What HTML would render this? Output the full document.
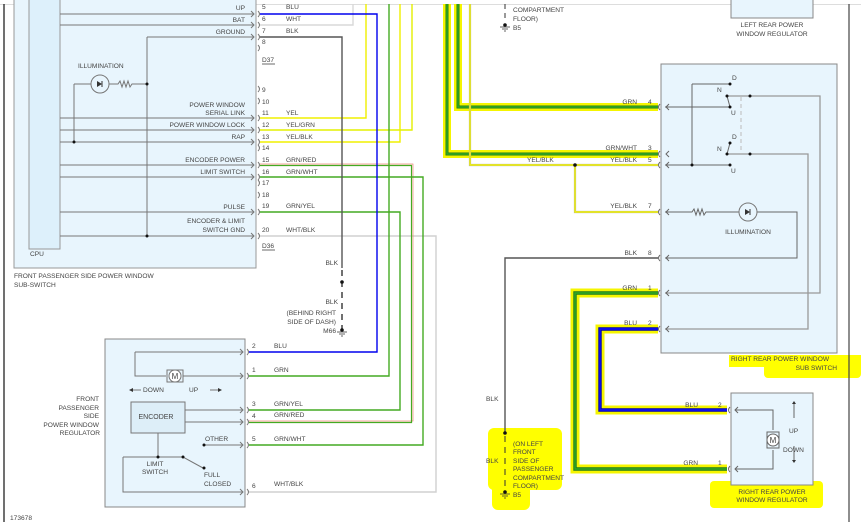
<!DOCTYPE html>
<html><head><meta charset="utf-8"><style>
html,body{margin:0;padding:0;background:#fff;}
svg{display:block;}
text{font-family:"Liberation Sans",sans-serif;font-size:6.6px;fill:#444;}
.r{text-anchor:end;}
.m{text-anchor:middle;}
</style></head><body>
<svg width="861" height="522" viewBox="0 0 861 522" xmlns="http://www.w3.org/2000/svg">
<!-- highlights -->
<g fill="#ffff00">
<rect x="729" y="355" width="132" height="12"/>
<rect x="764" y="362" width="97" height="16" rx="4"/>
<rect x="710" y="481" width="113" height="27" rx="4"/>
<rect x="488" y="428" width="74" height="62" rx="6"/>
<rect x="492" y="480" width="38" height="30" rx="6"/>
</g>
<!-- frame -->
<line x1="0" y1="4.5" x2="861" y2="4.5" stroke="#ddd" stroke-width="1"/>
<line x1="4" y1="4" x2="4" y2="522" stroke="#111" stroke-width="1.2"/>
<line x1="849" y1="4" x2="849" y2="522" stroke="#444" stroke-width="1.2"/>

<!-- left sub switch -->
<rect x="14" y="-2" width="242" height="270" fill="#e8f5fd" stroke="#999"/>
<rect x="29" y="-2" width="31" height="251" fill="#ddf0fb" stroke="#999"/>
<text x="30" y="256">CPU</text>
<text x="14" y="278">FRONT PASSENGER SIDE POWER WINDOW</text>
<text x="14" y="287">SUB-SWITCH</text>
<g stroke="#777" stroke-width="1" fill="none">
<path d="M60 14H254M60 25H254M147 37H254M147 37V236M60 118H254M60 130H254M74 142H254M60 142H74M74 84V142M60 165H254M60 177H254M60 212H254M60 236H254"/>
<path d="M74 84H91M109 84H118l2 -3 2 6 2 -6 2 6 2 -6 2 6 2 -3H147"/>
</g>
<circle cx="100" cy="84" r="9" fill="none" stroke="#777"/>
<path d="M97 81v6l5 -3z" fill="#333"/><line x1="102" y1="81" x2="102" y2="87" stroke="#333"/>
<text x="78" y="68">ILLUMINATION</text>
<g fill="#111"><circle cx="147" cy="84" r="1.5"/><circle cx="74" cy="142" r="1.5"/><circle cx="147" cy="236" r="1.5"/></g>
<g stroke="#777" fill="none">
<path d="M251 11l3 3-3 3M251 22l3 3-3 3M251 34l3 3-3 3M251 115l3 3-3 3M251 127l3 3-3 3M251 139l3 3-3 3M251 162l3 3-3 3M251 174l3 3-3 3M251 209l3 3-3 3M251 233l3 3-3 3"/>
<path d="M258 11q3 3 0 6M258 22q3 3 0 6M258 34q3 3 0 6M258 45q3 3 0 6M258 86q3 3 0 6M258 98q3 3 0 6M258 115q3 3 0 6M258 127q3 3 0 6M258 139q3 3 0 6M258 145q3 3 0 6M258 162q3 3 0 6M258 174q3 3 0 6M258 180q3 3 0 6M258 192q3 3 0 6M258 209q3 3 0 6M258 233q3 3 0 6"/>
</g>
<text class="r" x="245" y="10">UP</text>
<text class="r" x="245" y="22">BAT</text>
<text class="r" x="245" y="34">GROUND</text>
<text class="r" x="245" y="107">POWER WINDOW</text>
<text class="r" x="245" y="115">SERIAL LINK</text>
<text class="r" x="245" y="127">POWER WINDOW LOCK</text>
<text class="r" x="245" y="139">RAP</text>
<text class="r" x="245" y="162">ENCODER POWER</text>
<text class="r" x="245" y="174">LIMIT SWITCH</text>
<text class="r" x="245" y="209">PULSE</text>
<text class="r" x="245" y="223">ENCODER &amp; LIMIT</text>
<text class="r" x="245" y="232">SWITCH GND</text>
<text x="262" y="9">5</text><text x="262" y="21">6</text><text x="262" y="33">7</text><text x="262" y="44">8</text>
<text x="262" y="92">9</text><text x="262" y="104">10</text><text x="262" y="115">11</text><text x="262" y="127">12</text>
<text x="262" y="139">13</text><text x="262" y="150">14</text><text x="262" y="162">15</text><text x="262" y="174">16</text>
<text x="262" y="185">17</text><text x="262" y="197">18</text><text x="262" y="208">19</text><text x="262" y="232">20</text>
<text x="262" y="62">D37</text><line x1="262" y1="64" x2="275" y2="64" stroke="#444" stroke-width="0.8"/>
<text x="262" y="248">D36</text><line x1="262" y1="250" x2="275" y2="250" stroke="#444" stroke-width="0.8"/>
<text x="286" y="9">BLU</text><text x="286" y="21">WHT</text><text x="286" y="33">BLK</text>
<text x="286" y="115">YEL</text><text x="286" y="127">YEL/GRN</text><text x="286" y="139">YEL/BLK</text>
<text x="286" y="162">GRN/RED</text><text x="286" y="174">GRN/WHT</text><text x="286" y="208">GRN/YEL</text><text x="286" y="232">WHT/BLK</text>

<!-- wires left -->
<g fill="none" stroke-width="1.4">
<path d="M260 25H353V4" stroke="#d8d8d8"/>
<path d="M260 236H436V492H249" stroke="#d0d0d0"/>
<path d="M260 118H366V4" stroke="#f0f000"/>
<path d="M260 142H400V4" stroke="#f0f000"/>
<path d="M260 130H412V4" stroke="#e4f000"/>
<path d="M260 164H413V421H249" stroke="#ee8877" stroke-width="0.7"/>
<path d="M260 165.5H411.5V422.5H249" stroke="#44aa22" stroke-width="1.2"/>
<path d="M389 4V376H249" stroke="#44aa22"/>
<path d="M260 177H423V445H249" stroke="#44aa22"/>
<path d="M260 212H400V410H249" stroke="#44aa22"/>
<path d="M260 14H377V352H249" stroke="#0000ee"/>
<path d="M260 37H342V268" stroke="#555"/>
<path d="M342 270V330" stroke="#333" stroke-dasharray="6,5"/>
</g>
<circle cx="342" cy="282" r="1.8" fill="#111"/><circle cx="342" cy="330" r="1.8" fill="#111"/>
<path d="M337 332h10M339 334h6M341 336h2" stroke="#333" stroke-width="0.8"/>
<text class="r" x="338" y="265">BLK</text>
<text class="r" x="338" y="304">BLK</text>
<text class="r" x="336" y="315">(BEHIND RIGHT</text>
<text class="r" x="336" y="324">SIDE OF DASH)</text>
<text class="r" x="336" y="333">M66</text>

<!-- front regulator -->
<rect x="105" y="339" width="140" height="168" fill="#e8f5fd" stroke="#888"/>
<g stroke="#777" fill="none">
<path d="M135 352H243M135 352V376H166M183 376H243"/>
<rect x="131" y="402" width="54" height="31" fill="#ddeef8"/>
<path d="M185 410H243M185 422H243M158 433V457M123 457H183l20 11M123 457V492H243M204 445H243"/>
<path d="M240 349l3 3-3 3M240 373l3 3-3 3M240 407l3 3-3 3M240 419l3 3-3 3M240 442l3 3-3 3M240 489l3 3-3 3"/>
<path d="M247 349q3 3 0 6M247 373q3 3 0 6M247 407q3 3 0 6M247 419q3 3 0 6M247 442q3 3 0 6M247 489q3 3 0 6"/>
<path d="M133 390H141M210 390H218"/>
</g>
<rect x="167" y="370" width="16" height="12" fill="none" stroke="#777"/>
<circle cx="175" cy="376" r="6" fill="#fff" stroke="#777"/>
<text class="m" x="175" y="379" style="font-size:8px">M</text>
<path d="M129 390l4-2v4zM222 390l-4-2v4z" fill="#333"/>
<text x="143" y="392">DOWN</text><text x="189" y="392">UP</text>
<text class="m" x="156" y="419" style="font-size:7px">ENCODER</text>
<text x="205" y="441">OTHER</text>
<text class="m" x="155" y="466">LIMIT</text><text class="m" x="155" y="474">SWITCH</text>
<text x="204" y="477">FULL</text><text x="204" y="486">CLOSED</text>
<g fill="#111"><circle cx="158" cy="457" r="1.5"/><circle cx="183" cy="457" r="1.5"/><circle cx="204" cy="468" r="1.5"/><circle cx="204" cy="445" r="1.5"/></g>
<text class="r" x="99" y="401">FRONT</text><text class="r" x="99" y="410">PASSENGER</text><text class="r" x="99" y="418">SIDE</text>
<text class="r" x="99" y="427">POWER WINDOW</text><text class="r" x="100" y="435">REGULATOR</text>
<text x="252" y="348">2</text><text x="252" y="372">1</text><text x="252" y="406">3</text><text x="252" y="418">4</text><text x="252" y="441">5</text><text x="252" y="488">6</text>
<text x="274" y="348">BLU</text><text x="274" y="372">GRN</text><text x="274" y="406">GRN/YEL</text><text x="274" y="417">GRN/RED</text><text x="274" y="441">GRN/WHT</text><text x="274" y="486">WHT/BLK</text>
<text x="10" y="520">173678</text>

<!-- right side wires -->
<g fill="none" stroke-linejoin="miter">
<path d="M447 4V154H658M458 4V107H658" stroke="#f5f500" stroke-width="8"/>
<path d="M447 4V154H658M458 4V107H658" stroke="#1f7a1f" stroke-width="3"/>
<path d="M447 4V154H658M458 4V107H658" stroke="#33aa22" stroke-width="1.4"/>
<path d="M470 4V165H658M575 165V212H658" stroke="#aaa" stroke-width="2.2"/>
<path d="M470 4V165H658M575 165V212H658" stroke="#f5f500" stroke-width="1.4"/>
<path d="M658 293H575V469H727M658 329H600V410H727" stroke="#f5f500" stroke-width="9"/>
<path d="M658 293H575V469H727" stroke="#1f7a1f" stroke-width="3.4"/>
<path d="M658 293H575V469H727" stroke="#33aa22" stroke-width="1.4"/>
<path d="M658 329H600V410H727" stroke="#0000aa" stroke-width="3.4"/>
<path d="M658 329H600V410H727" stroke="#1010ff" stroke-width="1.4"/>
<path d="M658 258H505V433" stroke="#555" stroke-width="1.4"/>
<path d="M505 436V492" stroke="#333" stroke-dasharray="6,5"/>
<path d="M505 4V20" stroke="#333" stroke-dasharray="5,4"/>
</g>
<circle cx="575" cy="165" r="1.8" fill="#111"/>
<circle cx="505" cy="433" r="1.8" fill="#111"/><circle cx="505" cy="492" r="1.8" fill="#111"/><circle cx="505" cy="25" r="1.8" fill="#111"/>
<path d="M500 494h10M502 496h6M504 498h2M500 27h10M502 29h6M504 31h2" stroke="#333" stroke-width="0.8"/>
<text x="513" y="12">COMPARTMENT</text><text x="513" y="21">FLOOR)</text><text x="513" y="30">B5</text>
<text x="486" y="401">BLK</text><text x="486" y="463">BLK</text>
<text x="513" y="446">(ON LEFT</text><text x="513" y="454">FRONT</text><text x="513" y="463">SIDE OF</text>
<text x="513" y="471">PASSENGER</text><text x="513" y="480">COMPARTMENT</text><text x="513" y="488">FLOOR)</text><text x="513" y="497">B5</text>

<text class="r" x="637" y="104">GRN</text><text x="648" y="104">4</text>
<text class="r" x="637" y="150">GRN/WHT</text><text x="648" y="150">3</text>
<text class="r" x="637" y="162">YEL/BLK</text><text x="648" y="162">5</text>
<text x="527" y="162">YEL/BLK</text>
<text class="r" x="637" y="208">YEL/BLK</text><text x="648" y="208">7</text>
<text class="r" x="637" y="255">BLK</text><text x="648" y="255">8</text>
<text class="r" x="637" y="290">GRN</text><text x="648" y="290">1</text>
<text class="r" x="637" y="325">BLU</text><text x="648" y="325">2</text>
<text class="r" x="698" y="407">BLU</text><text x="718" y="407">2</text>
<text class="r" x="698" y="465">GRN</text><text x="718" y="465">1</text>

<!-- left rear regulator -->
<rect x="731" y="-2" width="82" height="20" fill="#e8f5fd" stroke="#888"/>
<text class="m" x="772" y="27">LEFT REAR POWER</text>
<text class="m" x="772" y="36">WINDOW REGULATOR</text>

<!-- right rear sub switch -->
<rect x="661" y="64" width="176" height="289" fill="#e8f5fd" stroke="#888"/>
<g stroke="#666" fill="none">
<path d="M665 107H730M727 96l3 11M692 84H730M692 84V165M665 165H730M727 154l3 -11"/>
<path d="M727 96H820V293H665M727 154H808V329H665" stroke="#999" stroke-width="1.3"/>
<path d="M665 212H692l2 -3 2 6 2 -6 2 6 2 -6 2 6 2 -3H739M757 212H797V258H665"/>
<path d="M741 97V154" stroke="#bbb" stroke-dasharray="4,3"/>
<path d="M669 104l-3 3 3 3M669 151l-3 3 3 3M669 162l-3 3 3 3M669 209l-3 3 3 3M669 255l-3 3 3 3M669 290l-3 3 3 3M669 326l-3 3 3 3"/>
<path d="M660 104q-3 3 0 6M660 151q-3 3 0 6M660 162q-3 3 0 6M660 209q-3 3 0 6M660 255q-3 3 0 6M660 290q-3 3 0 6M660 326q-3 3 0 6"/>
</g>
<circle cx="748" cy="212" r="9" fill="none" stroke="#777"/>
<path d="M745 209v6l5 -3z" fill="#333"/><line x1="750" y1="209" x2="750" y2="215" stroke="#333"/>
<text class="m" x="748" y="234">ILLUMINATION</text>
<g fill="#111"><circle cx="730" cy="84" r="1.5"/><circle cx="727" cy="96" r="1.5"/><circle cx="730" cy="107" r="1.5"/><circle cx="750" cy="96" r="1.5"/>
<circle cx="730" cy="143" r="1.5"/><circle cx="727" cy="154" r="1.5"/><circle cx="730" cy="165" r="1.5"/><circle cx="750" cy="154" r="1.5"/><circle cx="692" cy="165" r="1.5"/></g>
<text x="732" y="80">D</text><text x="717" y="92">N</text><text x="731" y="115">U</text>
<text x="732" y="139">D</text><text x="717" y="151">N</text><text x="731" y="173">U</text>
<text x="731" y="361">RIGHT REAR POWER WINDOW</text>
<text class="r" x="837" y="370">SUB SWITCH</text>

<!-- right rear regulator -->
<rect x="731" y="393" width="82" height="92" fill="#e8f5fd" stroke="#888"/>
<g stroke="#666" fill="none">
<path d="M735 410H773V430M773 450V469H735M738 407l-3 3 3 3M738 466l-3 3 3 3"/>
<path d="M730 407q-3 3 0 6M730 466q-3 3 0 6"/>
<path d="M794 418V404M794 446V460"/>
<rect x="767" y="432" width="12" height="16"/>
</g>
<circle cx="773" cy="440" r="6" fill="#fff" stroke="#666"/>
<text class="m" x="773" y="443" style="font-size:8px">M</text>
<path d="M792 404l2 -3 2 3zM792 460l2 3 2 -3z" fill="#333"/>
<text x="789" y="433">UP</text><text x="783" y="452">DOWN</text>
<text class="m" x="772" y="494">RIGHT REAR POWER</text>
<text class="m" x="772" y="502">WINDOW REGULATOR</text>
</svg>
</body></html>
